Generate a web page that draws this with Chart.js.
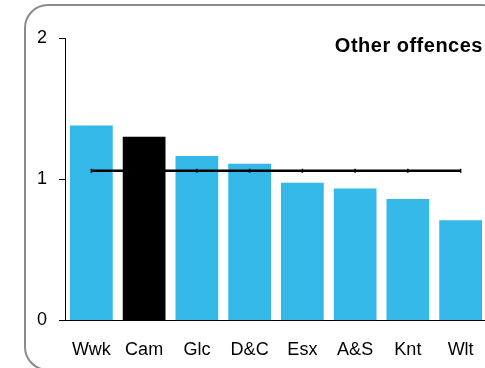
<!DOCTYPE html>
<html>
<head>
<meta charset="utf-8">
<script src="https://cdn.jsdelivr.net/npm/chart.js@4"></script>
<style>
    html, body { margin: 0; padding: 0; background: #fff; overflow: hidden; }
    #wrap { position: relative; width: 485px; height: 368px; overflow: hidden; }
    #frame {
        position: absolute; left: 24px; top: 4px; width: 482px; height: 367px;
        border: 2px solid #8a8a8a; border-radius: 24px; box-sizing: border-box;
    }
    #chart-box { position: absolute; left: 0; top: 0; width: 500px; height: 372px; }
    #title {
        position: absolute; right: 2px; top: 34px; letter-spacing: 0.5px;
        font: bold 20px "Liberation Sans", Arial, sans-serif; color: #000;
    }
</style>
</head>
<body>
<div id="wrap">
    <div id="frame"></div>
    <div id="chart-box"><canvas id="chart" width="500" height="372"></canvas></div>
    <div id="title">Other offences</div>
</div>
<script>
const categories = ['Wwk', 'Cam', 'Glc', 'D&C', 'Esx', 'A&S', 'Knt', 'Wlt'];
const rates = [1.38, 1.30, 1.165, 1.11, 0.975, 0.935, 0.86, 0.71];
const average = [1.06, 1.06, 1.06, 1.06, 1.06, 1.06, 1.06, 1.06];
const yTicks = [0, 1, 2];

const blue = '#33b8e8';
const barColors = categories.map(c => c === 'Cam' ? '#000000' : blue);

const ctx = document.getElementById('chart').getContext('2d');
new Chart(ctx, {
    data: {
        labels: categories,
        datasets: [
            {
                type: 'line',
                data: average,
                borderColor: '#000',
                borderWidth: 2.5,
                pointStyle: 'line',
                pointRotation: 90,
                pointRadius: 2,
                pointBorderWidth: 1.5,
                pointBorderColor: '#000',
                order: 0
            },
            {
                type: 'bar',
                data: rates,
                backgroundColor: barColors,
                categoryPercentage: 1,
                barPercentage: 0.81,
                order: 1
            }
        ]
    },
    options: {
        responsive: false,
        animation: false,
        layout: { padding: { left: 0, right: 13, top: 38, bottom: 0 } },
        plugins: { legend: { display: false }, tooltip: { enabled: false } },
        scales: {
            x: {
                grid: { display: false },
                border: { color: '#000', width: 1 },
                ticks: {
                    color: '#000', padding: 11,
                    font: { family: '"Liberation Sans", Arial, sans-serif', size: 18 }
                }
            },
            y: {
                min: 0, max: 2,
                afterFit: (scale) => { scale.width = 65; },
                afterBuildTicks: (scale) => { scale.ticks = yTicks.map(v => ({ value: v })); },
                grid: { drawOnChartArea: false, tickLength: 6, color: '#000' },
                border: { color: '#000', width: 1 },
                ticks: {
                    color: '#000', padding: 12,
                    font: { family: '"Liberation Sans", Arial, sans-serif', size: 18 }
                }
            }
        }
    }
});
</script>
</body>
</html>
